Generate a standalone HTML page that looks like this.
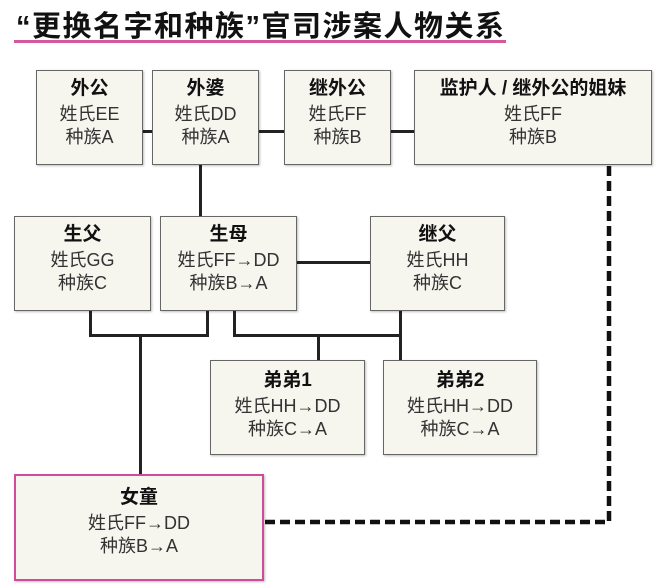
<!DOCTYPE html>
<html><head><meta charset="utf-8"><style>
body{margin:0;width:664px;height:587px;background:#fff;position:relative;overflow:hidden;font-family:"Liberation Sans","Noto Sans CJK SC",sans-serif;}
.t{position:absolute;left:16px;top:3px;font-size:29px;font-weight:bold;color:#111;letter-spacing:1.5px;white-space:nowrap}
.ul{position:absolute;left:14px;top:40px;width:492px;height:3px;background:#d5589a}
.b{position:absolute;box-sizing:border-box;background:#f6f5ee;border:1.5px solid #666;box-shadow:1px 1px 2px rgba(0,0,0,.25);text-align:center;color:#333;font-size:18px;line-height:23px}
.b b{display:block;font-size:19px;color:#111;margin-bottom:3px}
.l{position:absolute;background:#222}
</style></head><body>
<div class="t">“更换名字和种族”官司涉案人物关系</div>
<div class="ul"></div>
<div class="l" style="left:143px;top:130px;width:9px;height:3px"></div>
<div class="l" style="left:259px;top:130px;width:25px;height:3px"></div>
<div class="l" style="left:391px;top:130px;width:23px;height:3px"></div>
<div class="l" style="left:199px;top:165px;width:3px;height:52px"></div>
<div class="l" style="left:297px;top:261px;width:73px;height:3px"></div>
<div class="l" style="left:89px;top:310px;width:3px;height:27px"></div>
<div class="l" style="left:206px;top:310px;width:3px;height:27px"></div>
<div class="l" style="left:89px;top:334px;width:120px;height:3px"></div>
<div class="l" style="left:139px;top:334px;width:3px;height:141px"></div>
<div class="l" style="left:233px;top:310px;width:3px;height:27px"></div>
<div class="l" style="left:399px;top:310px;width:3px;height:27px"></div>
<div class="l" style="left:233px;top:334px;width:169px;height:3px"></div>
<div class="l" style="left:317px;top:334px;width:3px;height:27px"></div>
<div class="l" style="left:399px;top:334px;width:3px;height:27px"></div>
<svg style="position:absolute;left:0;top:0" width="664" height="587"><path d="M609 166 V522 H264" fill="none" stroke="#111" stroke-width="4.5" stroke-dasharray="10 5"/></svg>
<div class="b" style="left:36px;top:70px;width:107px;height:95px;padding-top:6px"><b>外公</b>姓氏EE<br>种族A</div>
<div class="b" style="left:152px;top:70px;width:107px;height:95px;padding-top:6px"><b>外婆</b>姓氏DD<br>种族A</div>
<div class="b" style="left:284px;top:70px;width:107px;height:95px;padding-top:6px"><b>继外公</b>姓氏FF<br>种族B</div>
<div class="b" style="left:414px;top:70px;width:238px;height:95px;padding-top:6px"><b>监护人 / 继外公的姐妹</b>姓氏FF<br>种族B</div>
<div class="b" style="left:14px;top:216px;width:137px;height:95px;padding-top:6px"><b>生父</b>姓氏GG<br>种族C</div>
<div class="b" style="left:160px;top:216px;width:137px;height:95px;padding-top:6px"><b>生母</b>姓氏FF→DD<br>种族B→A</div>
<div class="b" style="left:370px;top:216px;width:135px;height:95px;padding-top:6px"><b>继父</b>姓氏HH<br>种族C</div>
<div class="b" style="left:210px;top:360px;width:155px;height:95px;padding-top:8px"><b>弟弟1</b>姓氏HH→DD<br>种族C→A</div>
<div class="b" style="left:383px;top:360px;width:154px;height:95px;padding-top:8px"><b>弟弟2</b>姓氏HH→DD<br>种族C→A</div>
<div class="b" style="left:14px;top:474px;width:250px;height:107px;padding-top:10px;border:2.5px solid #d04c9a"><b>女童</b>姓氏FF→DD<br>种族B→A</div>
</body></html>
